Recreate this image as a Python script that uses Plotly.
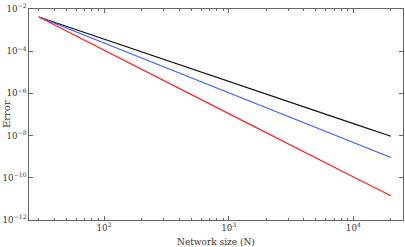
import plotly.graph_objects as go

network_size = [30, 100, 1000, 10000, 20000]
error_black = [4.2e-3, 3.7e-4, 3.7e-6, 3.7e-8, 9.3e-9]
error_blue = [4.2e-3, 2.5e-4, 1.07e-6, 4.7e-9, 9.1e-10]
error_red = [4.2e-3, 1.1e-4, 1.1e-7, 1.1e-10, 1.4e-11]

fig = go.Figure()
for ys, col in [(error_black, "#111111"), (error_blue, "#3a5cff"), (error_red, "#ff2020")]:
    fig.add_trace(go.Scatter(x=network_size, y=ys, mode="lines",
                             line=dict(color=col, width=1.2), showlegend=False))

axis_common = dict(showgrid=False, zeroline=False, showline=True, linecolor="#666666",
                   linewidth=1, mirror="allticks", ticks="inside", ticklen=4,
                   tickcolor="#666666", exponentformat="power", automargin=False,
                   tickfont=dict(family="DejaVu Serif", size=7, color="#333333"))

fig.update_xaxes(type="log", range=[1.39794, 4.39794], dtick=1,
                 minor=dict(ticks="inside", ticklen=2, tickcolor="#666666", dtick="D1"),
                 **axis_common)
fig.update_yaxes(type="log", range=[-12, -2], dtick=2, **axis_common)

fig.add_annotation(text="Network size (N)", xref="paper", yref="paper", x=0.5, y=0,
                   yshift=-15, yanchor="top", showarrow=False,
                   font=dict(family="DejaVu Serif", size=9, color="#333333"))
fig.add_annotation(text="Error", xref="paper", yref="paper", x=0, y=0.5,
                   xshift=-30, xanchor="left", textangle=-90, showarrow=False,
                   font=dict(family="DejaVu Serif", size=10, color="#333333"))

fig.update_layout(width=405, height=247, margin=dict(l=29, r=2, t=9, b=27),
                  plot_bgcolor="white", paper_bgcolor="white")
fig.write_html("out.html", config={"displayModeBar": False},
               post_script="document.body.style.margin='0';")
